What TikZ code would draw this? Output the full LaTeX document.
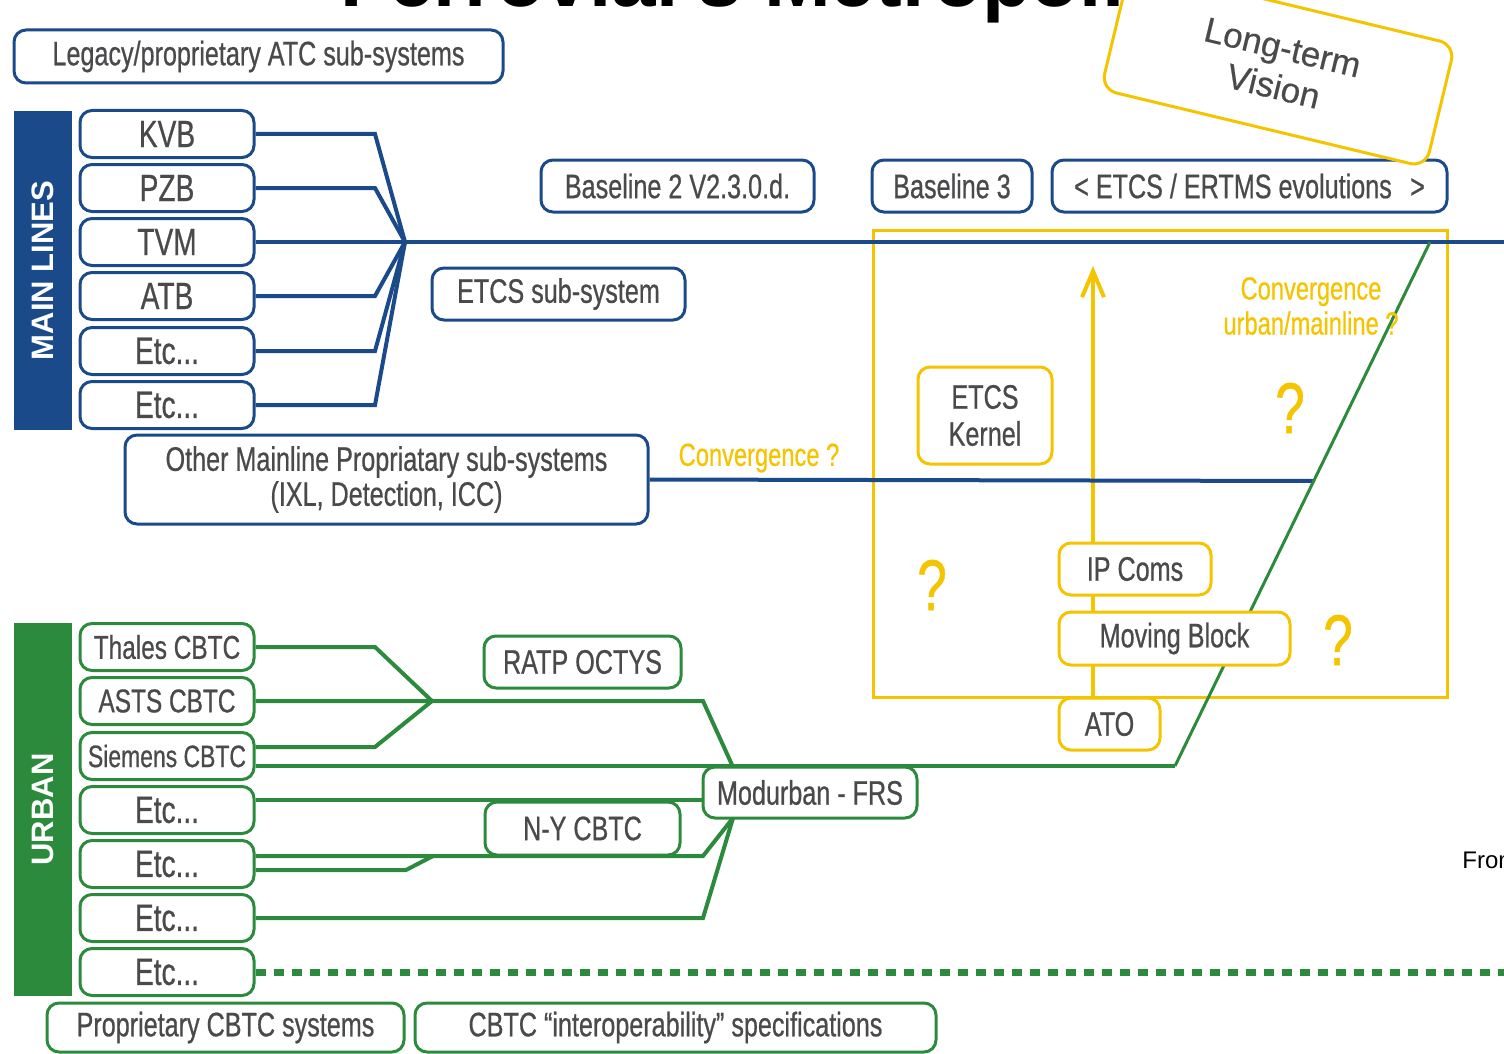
\documentclass[tikz,border=0pt]{standalone}
\usepackage{fontspec}
\setmainfont{Liberation Sans}
\newfontfamily\cf[FakeStretch=0.74,FakeBold=0.6]{Liberation Sans}
\newfontfamily\vf[FakeBold=0.4]{Liberation Sans}
\usetikzlibrary{arrows.meta}
\definecolor{mblue}{HTML}{1B4A8A}
\definecolor{mgreen}{HTML}{2C8A3C}
\definecolor{myellow}{HTML}{F5C400}
\definecolor{mtext}{HTML}{4A4A4C}
\pgfdeclarelayer{background}
\pgfsetlayers{background,main}
\begin{document}
\begin{tikzpicture}[x=0.5pt,y=-0.5pt,
  box/.style={rounded corners=6pt, line width=1.5pt, fill=white, text=mtext,
    font=\cf\fontsize{17}{17.5}\selectfont, align=center, inner sep=0pt},
  bbox/.style={box, draw=mblue},
  gbox/.style={box, draw=mgreen},
  ybox/.style={box, draw=myellow},
  sz/.style n args={2}{minimum width=#1, minimum height=#2},
  mlbox/.style={bbox, sz={87pt}{23.5pt}, font=\cf\fontsize{19}{20}\selectfont},
  ubox/.style={gbox, sz={87pt}{23.5pt}, font=\cf\fontsize{16.5}{17}\selectfont},
  uetc/.style={ubox, font=\cf\fontsize{19}{20}\selectfont},
  band/.style={rotate=90, text=white, inner sep=0pt,
    font=\bfseries\fontsize{15.5}{16}\selectfont},
  bline/.style={draw=mblue, line width=2pt},
  gline/.style={draw=mgreen, line width=2pt},
  gdash/.style={draw=mgreen, line width=3.5pt, dash pattern=on 5pt off 4pt},
  ytext/.style={text=myellow, align=center, inner sep=0pt,
    font=\cf\fontsize{16}{17.5}\selectfont},
  qmark/.style={text=myellow, inner sep=0pt, font=\cf\fontsize{36}{36}\selectfont},
]
\useasboundingbox (0,0) rectangle (1504,1054);
\clip (0,0) rectangle (1504,1054);

% title (cut off at top)
\node[anchor=base west, inner sep=0pt, font=\bfseries\fontsize{40}{40}\selectfont] (title) at (340,7) {Ferrovial's Metropolitan};
\node[anchor=base west, inner sep=0pt, font=\fontsize{12}{12}\selectfont] (from) at (1462,868) {From};

% bands
\node[band, fill=mblue, sz={159.5pt}{29pt}] (mainlines) at (43,270.5) {MAIN LINES};
\node[band, fill=mgreen, sz={186.5pt}{29pt}] (urban) at (43,809.5) {URBAN};

% top boxes
\node[bbox, sz={244.5pt}{26.5pt}] (legacy) at (258.5,56.5) {Legacy/proprietary ATC sub-systems};

% main line boxes
\node[mlbox] (kvb) at (167,134) {KVB};
\node[mlbox] (pzb) at (167,188) {PZB};
\node[mlbox] (tvm) at (167,242) {TVM};
\node[mlbox] (atb) at (167,296) {ATB};
\node[mlbox] (mle1) at (167,351) {Etc...};
\node[mlbox] (mle2) at (167,405) {Etc...};

\node[bbox, sz={136.5pt}{26pt}] (base2) at (677.5,186) {Baseline 2 V2.3.0.d.};
\node[bbox, sz={80pt}{26pt}] (base3) at (952,186) {Baseline 3};
\node[bbox, sz={197.5pt}{26pt}] (ertms) at (1249.5,186) {< ETCS / ERTMS evolutions\,\, >};
\node[bbox, sz={126.5pt}{26pt}] (etcssub) at (558.5,294) {ETCS sub-system};
\node[bbox, sz={261.5pt}{44.5pt}] (other) at (386.5,479.5) {Other Mainline Propriatary sub-systems\\(IXL, Detection, ICC)};

% yellow boxes
\node[ybox, sz={67pt}{48.5pt}, font=\cf\fontsize{17}{18.5}\selectfont] (kernel) at (985,415.5) {ETCS\\Kernel};
\node[ybox, sz={76pt}{26pt}] (ipcoms) at (1135,569) {IP Coms};
\node[ybox, sz={115.5pt}{26.5pt}] (moving) at (1174.5,638.5) {Moving Block};
\node[ybox, sz={50.5pt}{26pt}] (ato) at (1109.5,724) {ATO};

% urban boxes
\node[ubox] (thales) at (167,647) {Thales CBTC};
\node[ubox] (asts) at (167,701) {ASTS CBTC};
\node[ubox, font=\cf\fontsize{15.5}{17}\selectfont] (siemens) at (167,756) {Siemens CBTC};
\node[uetc] (u4) at (167,810) {Etc...};
\node[uetc] (u5) at (167,864) {Etc...};
\node[uetc] (u6) at (167,918) {Etc...};
\node[uetc] (u7) at (167,972) {Etc...};

\node[gbox, sz={98.5pt}{26pt}] (ratp) at (582.5,662) {RATP OCTYS};
\node[gbox, sz={97.5pt}{26.5pt}] (ny) at (582.5,828.5) {N-Y CBTC};
\node[gbox, sz={107pt}{25.5pt}] (modurban) at (810,792.5) {Modurban - FRS};
\node[gbox, sz={178.5pt}{24.5pt}] (propcbtc) at (225.5,1027.5) {Proprietary CBTC systems};
\node[gbox, sz={260.5pt}{24.5pt}] (interop) at (675.5,1027.5) {CBTC “interoperability” specifications};

% yellow texts
\node[ytext] (conv1) at (759,458) {Convergence ?};
\node[ytext] (conv2) at (1311,306) {Convergence\\urban/mainline ?};
\node[qmark] (q1) at (932,585) {?};
\node[qmark] (q2) at (1290,408) {?};
\node[qmark] (q3) at (1338,640) {?};

% coordinates
\coordinate (conv) at (405,242);
\coordinate (mainend) at (1504,242);
\coordinate (otherend) at (1313,481);
\coordinate (uconv) at (432,701);
\coordinate (mtop) at (733,767);
\coordinate (mbot) at (733,818);
\coordinate (gturn) at (1175,766);
\coordinate (gtop) at (1430,242);
\coordinate (u4end) at (703,800);
\coordinate (dashend) at (1504,972);
\coordinate (arrtip) at (1093,266);

\begin{pgfonlayer}{background}
  % yellow frame and arrow
  \draw[myellow, line width=1.5pt] (873,230) rectangle (1447,697);
  \draw[myellow, line width=2pt, -{Straight Barb[length=13pt,width=11pt]}] ([xshift=-8.25pt]ato.north) -- (arrtip);
  % blue connectors
  \draw[bline] (tvm.east) -- (conv) -- (mainend);
  \draw[bline] (kvb.east) -- (375,134) -- (conv);
  \draw[bline] (pzb.east) -- (375,188) -- (conv);
  \draw[bline] (atb.east) -- (375,296) -- (conv);
  \draw[bline] (mle1.east) -- (375,351) -- (conv);
  \draw[bline] (mle2.east) -- (375,405) -- (conv);
  \draw[bline] (other.east) -- (otherend);
  % green connectors
  \draw[gline] (thales.east) -- (375,647) -- (uconv);
  \draw[gline] ([yshift=4.5pt]siemens.east) -- (375,747) -- (uconv);
  \draw[gline] (asts.east) -- (uconv) -- (703,701) -- (mtop);
  \draw[gline] ([yshift=-5pt]siemens.east) -- (gturn);
  \draw[gline, line width=1.5pt] (gturn) -- (gtop);
  \draw[gline] ([yshift=5pt]u4.east) -- (u4end);
  \draw[gline] ([yshift=4pt]u5.east) -- (703,856) -- (mbot);
  \draw[gline] ([yshift=-3pt]u5.east) -- (406,870) -- (433,856);
  \draw[gline] (u6.east) -- (703,918) -- (mbot);
  \draw[gdash] (u7.east) -- (dashend);
\end{pgfonlayer}

% long-term vision box (covers the end of the title)
\node[ybox, rotate=-13.5, sz={167pt}{63pt}, rounded corners=8pt,
  font=\vf\fontsize{17.5}{20}\selectfont] (vision) at (1278,67) {Long-term\\Vision};
\end{tikzpicture}
\end{document}
